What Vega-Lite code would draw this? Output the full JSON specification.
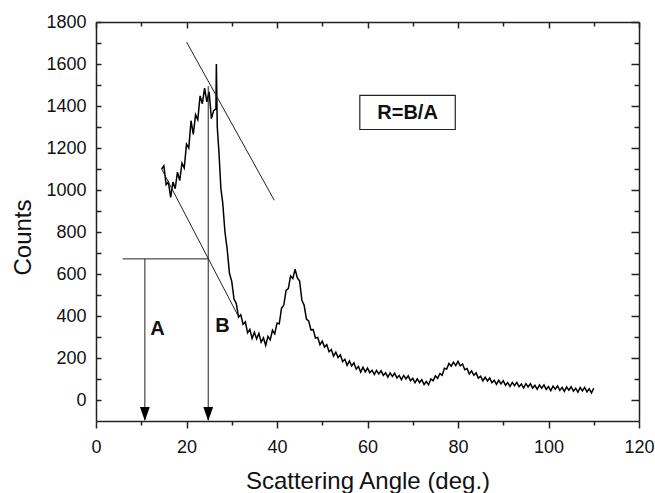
{
  "$schema": "https://vega.github.io/schema/vega-lite/v6.json",
  "width": 543,
  "height": 399,
  "autosize": "none",
  "padding": {"left": 96, "top": 22, "right": 16, "bottom": 72},
  "background": "white",
  "config": {
    "view": {"stroke": null},
    "font": "Liberation Sans",
    "axis": {
      "labelFont": "Liberation Sans",
      "titleFont": "Liberation Sans",
      "labelColor": "#111",
      "titleColor": "#111",
      "domainColor": "#222",
      "tickColor": "#222",
      "domainWidth": 1.5,
      "tickWidth": 1.5,
      "grid": false,
      "labelFontSize": 18,
      "titleFontSize": 24,
      "titleFontWeight": "normal",
      "labelOverlap": false,
      "labelBound": false,
      "labelFlush": false
    }
  },
  "datasets": {
    "spectrum": [
      {"a":14.5,"c":1100},
      {"a":15.0,"c":1115},{"a":15.5,"c":1025},{"a":16.0,"c":1038},{"a":16.5,"c":965},{"a":17.0,"c":1038},{"a":17.5,"c":1006},
      {"a":18.0,"c":1085},{"a":18.5,"c":1045},{"a":19.0,"c":1128},{"a":19.5,"c":1105},{"a":20.0,"c":1218},{"a":20.5,"c":1200},
      {"a":21.0,"c":1330},{"a":21.5,"c":1265},{"a":22.0,"c":1358},{"a":22.5,"c":1335},{"a":23.0,"c":1448},{"a":23.5,"c":1411},
      {"a":24.0,"c":1485},{"a":24.5,"c":1420},{"a":25.0,"c":1468},{"a":25.5,"c":1340},{"a":26.0,"c":1378},{"a":26.5,"c":1386},
      {"a":26.6,"c":1600},{"a":26.8,"c":1300},{"a":27.2,"c":1170},{"a":27.6,"c":1006},{"a":28.0,"c":940},{"a":28.5,"c":800},
      {"a":29.0,"c":716},{"a":29.5,"c":602},{"a":30.0,"c":565},{"a":30.5,"c":481},{"a":31.0,"c":460},{"a":31.5,"c":395},
      {"a":32.0,"c":406},{"a":32.5,"c":361},{"a":33.0,"c":372},{"a":33.5,"c":320},{"a":34.0,"c":336},{"a":34.5,"c":293},
      {"a":35.0,"c":323},{"a":35.5,"c":291},{"a":36.0,"c":317},{"a":36.5,"c":275},{"a":37.0,"c":296},{"a":37.5,"c":260},
      {"a":38.0,"c":303},{"a":38.5,"c":286},{"a":39.0,"c":332},{"a":39.5,"c":315},{"a":40.0,"c":366},{"a":40.5,"c":363},
      {"a":41.0,"c":438},{"a":41.5,"c":451},{"a":42.0,"c":522},{"a":42.5,"c":530},{"a":43.0,"c":591},{"a":43.5,"c":578},
      {"a":44.0,"c":623},{"a":44.5,"c":581},{"a":45.0,"c":567},{"a":45.5,"c":475},{"a":46.0,"c":451},{"a":46.5,"c":385},
      {"a":47.0,"c":377},{"a":47.5,"c":334},{"a":48.0,"c":335},{"a":48.5,"c":295},{"a":49.0,"c":298},{"a":49.5,"c":263},
      {"a":50.0,"c":280},{"a":50.5,"c":252},{"a":51.0,"c":263},{"a":51.5,"c":230},{"a":52.0,"c":240},{"a":52.5,"c":209},
      {"a":53.0,"c":228},{"a":53.5,"c":202},{"a":54.0,"c":215},{"a":54.5,"c":183},{"a":55.0,"c":194},{"a":55.5,"c":165},
      {"a":56.0,"c":186},{"a":56.5,"c":162},{"a":57.0,"c":177},{"a":57.5,"c":147},{"a":58.0,"c":160},{"a":58.5,"c":133},
      {"a":59.0,"c":156},{"a":59.5,"c":134},{"a":60.0,"c":152},{"a":60.5,"c":130},{"a":61.0,"c":142},{"a":61.5,"c":122},
      {"a":62.0,"c":141},{"a":62.5,"c":124},{"a":63.0,"c":139},{"a":63.5,"c":117},{"a":64.0,"c":129},{"a":64.5,"c":109},
      {"a":65.0,"c":129},{"a":65.5,"c":112},{"a":66.0,"c":127},{"a":66.5,"c":105},{"a":67.0,"c":117},{"a":67.5,"c":97},
      {"a":68.0,"c":117},{"a":68.5,"c":100},{"a":69.0,"c":115},{"a":69.5,"c":92},{"a":70.0,"c":103},{"a":70.5,"c":82},
      {"a":71.0,"c":101},{"a":71.5,"c":83},{"a":72.0,"c":97},{"a":72.5,"c":74},{"a":73.0,"c":88},{"a":73.5,"c":73},
      {"a":74.0,"c":100},{"a":74.5,"c":91},{"a":75.0,"c":115},{"a":75.5,"c":103},{"a":76.0,"c":126},{"a":76.5,"c":118},
      {"a":77.0,"c":151},{"a":77.5,"c":147},{"a":78.0,"c":174},{"a":78.5,"c":161},{"a":79.0,"c":180},{"a":79.5,"c":164},
      {"a":80.0,"c":184},{"a":80.5,"c":163},{"a":81.0,"c":172},{"a":81.5,"c":144},{"a":82.0,"c":150},{"a":82.5,"c":124},
      {"a":83.0,"c":139},{"a":83.5,"c":118},{"a":84.0,"c":129},{"a":84.5,"c":104},{"a":85.0,"c":113},{"a":85.5,"c":91},
      {"a":86.0,"c":109},{"a":86.5,"c":91},{"a":87.0,"c":105},{"a":87.5,"c":82},{"a":88.0,"c":94},{"a":88.5,"c":74},
      {"a":89.0,"c":94},{"a":89.5,"c":77},{"a":90.0,"c":92},{"a":90.5,"c":70},{"a":91.0,"c":83},{"a":91.5,"c":64},
      {"a":92.0,"c":84},{"a":92.5,"c":68},{"a":93.0,"c":84},{"a":93.5,"c":63},{"a":94.0,"c":76},{"a":94.5,"c":57},
      {"a":95.0,"c":78},{"a":95.5,"c":62},{"a":96.0,"c":78},{"a":96.5,"c":57},{"a":97.0,"c":70},{"a":97.5,"c":51},
      {"a":98.0,"c":72},{"a":98.5,"c":56},{"a":99.0,"c":72},{"a":99.5,"c":51},{"a":100.0,"c":64},{"a":100.5,"c":45},
      {"a":101.0,"c":66},{"a":101.5,"c":51},{"a":102.0,"c":67},{"a":102.5,"c":46},{"a":103.0,"c":60},{"a":103.5,"c":41},
      {"a":104.0,"c":62},{"a":104.5,"c":47},{"a":105.0,"c":63},{"a":105.5,"c":42},{"a":106.0,"c":56},{"a":106.5,"c":37},
      {"a":107.0,"c":59},{"a":107.5,"c":43},{"a":108.0,"c":60},{"a":108.5,"c":39},{"a":109.0,"c":53},{"a":109.5,"c":34},
      {"a":110.0,"c":56}
    ],
    "segments": [
      {"x":20.0,"y":1705,"x2":39.4,"y2":951},
      {"x":14.5,"y":1100,"x2":31.3,"y2":405},
      {"x":5.9,"y":672,"x2":24.8,"y2":672},
      {"x":10.8,"y":672,"x2":10.8,"y2":-95},
      {"x":24.8,"y":1494,"x2":24.8,"y2":-95}
    ],
    "arrows": [{"x":10.8,"y":-100},{"x":24.8,"y":-100}],
    "letters": [{"x":13.6,"y":336,"t":"A"},{"x":27.95,"y":353,"t":"B"}],
    "box": [{"x":58.3,"x2":79.4,"y":1288,"y2":1451,"xc":68.85,"yc":1369,"t":"R=B/A"}]
  },
  "layer": [
    {
      "data": {"name": "spectrum"},
      "mark": {"type": "line", "color": "#000", "strokeWidth": 1.5},
      "encoding": {
        "x": {
          "field": "a", "type": "quantitative",
          "scale": {"domain": [0, 120], "nice": false, "zero": false},
          "axis": {
            "orient": "bottom",
            "values": [0,10,20,30,40,50,60,70,80,90,100,110,120],
            "labelExpr": "datum.value % 20 === 0 ? datum.label : ''",
            "tickSize": {"condition": {"test": "datum.value % 20 === 0", "value": 7}, "value": 4},
            "labelPadding": 10,
            "title": "Scattering Angle (deg.)",
            "titleY": 67,
            "titleBaseline": "alphabetic"
          }
        },
        "y": {
          "field": "c", "type": "quantitative",
          "scale": {"domain": [-100, 1800], "nice": false, "zero": false},
          "axis": {
            "orient": "left",
            "values": [0,100,200,300,400,500,600,700,800,900,1000,1100,1200,1300,1400,1500,1600,1700,1800],
            "format": "d",
            "labelExpr": "datum.value % 200 === 0 ? datum.label : ''",
            "tickSize": -5,
            "labelPadding": 15,
            "title": "Counts",
            "titleX": -66,
            "titleY": 215,
            "titleBaseline": "alphabetic"
          }
        }
      }
    },
    {
      "data": {"name": "segments"},
      "mark": {"type": "rule", "color": "#222", "strokeWidth": 1},
      "encoding": {
        "x": {"field": "x", "type": "quantitative",
          "axis": {"orient": "top", "values": [0,10,20,30,40,50,60,70,80,90,100,110,120], "labels": false, "title": null,
            "tickSize": {"condition": {"test": "datum.value % 20 === 0", "value": -6}, "value": -4}}},
        "y": {"field": "y", "type": "quantitative",
          "axis": {"orient": "right", "values": [0,100,200,300,400,500,600,700,800,900,1000,1100,1200,1300,1400,1500,1600,1700,1800], "labels": false, "title": null,
            "tickSize": {"condition": {"test": "datum.value % 200 === 0", "value": -8}, "value": -5}}},
        "x2": {"field": "x2"},
        "y2": {"field": "y2"}
      }
    },
    {
      "data": {"name": "arrows"},
      "mark": {"type": "point", "shape": "M-0.7,-2L0.7,-2L0,0Z", "size": 196, "filled": true, "color": "#000", "opacity": 1},
      "encoding": {
        "x": {"field": "x", "type": "quantitative", "axis": null},
        "y": {"field": "y", "type": "quantitative", "axis": null}
      }
    },
    {
      "data": {"name": "letters"},
      "mark": {"type": "text", "font": "Liberation Sans", "fontSize": 20, "fontWeight": "bold", "color": "#111", "align": "center", "baseline": "middle"},
      "encoding": {
        "x": {"field": "x", "type": "quantitative", "axis": null},
        "y": {"field": "y", "type": "quantitative", "axis": null},
        "text": {"field": "t"}
      }
    },
    {
      "data": {"name": "box"},
      "mark": {"type": "rect", "fill": null, "fillOpacity": 0, "stroke": "#222", "strokeWidth": 1.2},
      "encoding": {
        "x": {"field": "x", "type": "quantitative", "axis": null},
        "x2": {"field": "x2"},
        "y": {"field": "y", "type": "quantitative", "axis": null},
        "y2": {"field": "y2"}
      }
    },
    {
      "data": {"name": "box"},
      "mark": {"type": "text", "font": "Liberation Sans", "fontSize": 20, "fontWeight": "bold", "color": "#111", "align": "center", "baseline": "middle"},
      "encoding": {
        "x": {"field": "xc", "type": "quantitative", "axis": null},
        "y": {"field": "yc", "type": "quantitative", "axis": null},
        "text": {"field": "t"}
      }
    }
  ],
  "resolve": {"axis": {"x": "independent", "y": "independent"}}
}
